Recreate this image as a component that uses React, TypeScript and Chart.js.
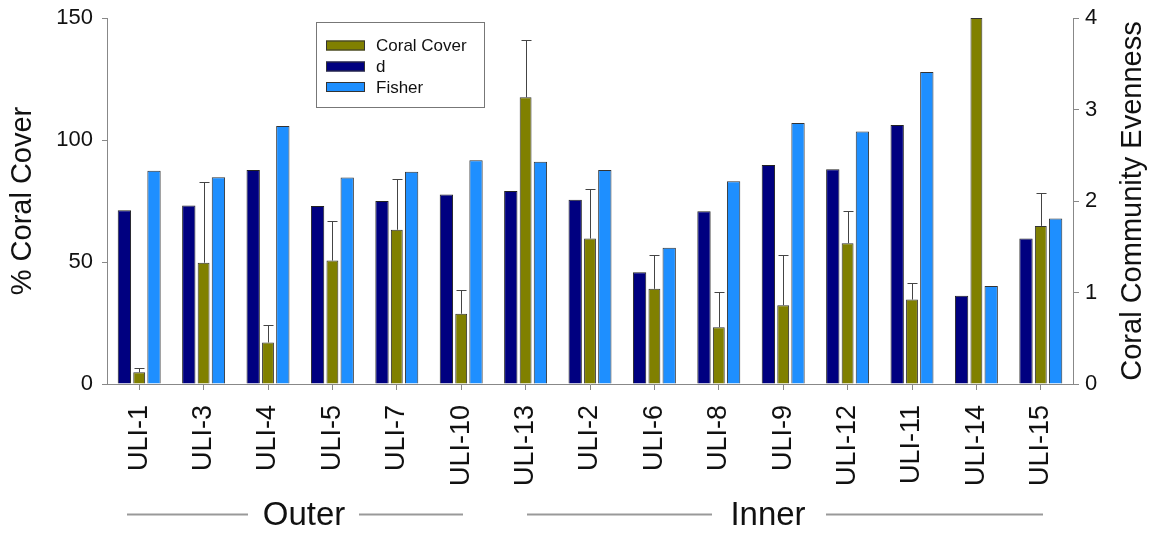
import React, { useEffect, useRef } from "react";
import { Chart, registerables } from "chart.js";

Chart.register(...registerables);

const sites = ["ULI-1", "ULI-3", "ULI-4", "ULI-5", "ULI-7", "ULI-10", "ULI-13", "ULI-2", "ULI-6", "ULI-8", "ULI-9", "ULI-12", "ULI-11", "ULI-14", "ULI-15"];
const coralCover = [4.8, 49.7, 17, 50.6, 63.2, 28.8, 117.5, 59.6, 39, 23.3, 32.3, 57.7, 34.6, 150, 64.8];
const coralCoverSD = [1.7, 33, 7.3, 16.3, 20.8, 9.8, 23.5, 20.5, 14, 14.3, 20.6, 13.4, 6.7, 0, 13.6];
const dValues = [1.9, 1.95, 2.34, 1.945, 2.0, 2.07, 2.11, 2.015, 1.22, 1.887, 2.394, 2.347, 2.83, 0.965, 1.59];
const fisherValues = [2.33, 2.26, 2.82, 2.256, 2.32, 2.445, 2.43, 2.34, 1.49, 2.215, 2.853, 2.76, 3.41, 1.07, 1.81];
const leftTicks = [0, 50, 100, 150];
const rightTicks = [0, 1, 2, 3, 4];
const legendLabels = ["Coral Cover", "d", "Fisher"];
const groupLabels = ["Outer", "Inner"];

const FONT = "'Liberation Sans', Arial, sans-serif";
const OLIVE = "#808000";
const NAVY = "#000080";
const LIGHT = "#1e8fff";
const AXIS = "#888888";

export default function App() {
  const ref = useRef<HTMLCanvasElement | null>(null);

  useEffect(() => {
    document.body.style.margin = "0";
    const canvas = ref.current!;

    const errorBars = {
      id: "errorBars",
      afterDatasetsDraw(chart: any) {
        const ctx = chart.ctx;
        const meta = chart.getDatasetMeta(1);
        const y = chart.scales.y;
        ctx.save();
        ctx.strokeStyle = "#444";
        ctx.lineWidth = 1;
        meta.data.forEach((bar: any, i: number) => {
          const sd = coralCoverSD[i];
          if (!sd) return;
          const top = y.getPixelForValue(coralCover[i] + sd);
          const x = Math.round(bar.x) + 0.5;
          ctx.beginPath();
          ctx.moveTo(x, bar.y);
          ctx.lineTo(x, Math.round(top) + 0.5);
          ctx.moveTo(x - 5, Math.round(top) + 0.5);
          ctx.lineTo(x + 5, Math.round(top) + 0.5);
          ctx.stroke();
        });
        ctx.restore();
      },
    };

    const decorations = {
      id: "decorations",
      afterDraw(chart: any) {
        const ctx = chart.ctx;
        ctx.save();
        // legend
        ctx.strokeStyle = "#777";
        ctx.lineWidth = 1;
        ctx.strokeRect(316.5, 22.5, 168, 85);
        const colors = [OLIVE, NAVY, LIGHT];
        const rowY = [45.5, 66.5, 87];
        ctx.font = `17px ${FONT}`;
        ctx.textBaseline = "middle";
        ctx.textAlign = "left";
        legendLabels.forEach((lab, i) => {
          ctx.fillStyle = colors[i];
          ctx.fillRect(326, rowY[i] - 5, 39, 10);
          ctx.strokeStyle = "#333";
          ctx.strokeRect(326.5, rowY[i] - 4.5, 38, 9);
          ctx.fillStyle = "#111";
          ctx.fillText(lab, 376, rowY[i] + 1);
        });
        // right axis title
        ctx.save();
        ctx.translate(1133, 201);
        ctx.rotate(-Math.PI / 2);
        ctx.font = `29px ${FONT}`;
        ctx.textAlign = "center";
        ctx.textBaseline = "middle";
        ctx.fillStyle = "#111";
        ctx.fillText("Coral Community Evenness", 0, 0);
        ctx.restore();
        // group labels
        ctx.strokeStyle = "#999";
        ctx.lineWidth = 2;
        const lines = [[127, 248], [359, 463], [527, 712], [826, 1043]];
        lines.forEach(([a, b]) => {
          ctx.beginPath();
          ctx.moveTo(a, 514.5);
          ctx.lineTo(b, 514.5);
          ctx.stroke();
        });
        ctx.font = `33px ${FONT}`;
        ctx.textAlign = "center";
        ctx.textBaseline = "middle";
        ctx.fillStyle = "#111";
        ctx.fillText(groupLabels[0], 304, 516);
        ctx.fillText(groupLabels[1], 768, 516);
        ctx.restore();
      },
    };

    const chart = new Chart(canvas, {
      type: "bar",
      data: {
        labels: sites,
        datasets: [
          {
            label: "d",
            data: dValues,
            yAxisID: "y2",
            backgroundColor: NAVY,
            borderColor: "#222",
            borderWidth: 1,
            barPercentage: 0.9,
            categoryPercentage: 0.69,
          },
          {
            label: "Coral Cover",
            data: coralCover,
            yAxisID: "y",
            backgroundColor: OLIVE,
            borderColor: "#333",
            borderWidth: 1,
            barPercentage: 0.8,
            categoryPercentage: 0.69,
          },
          {
            label: "Fisher",
            data: fisherValues,
            yAxisID: "y2",
            backgroundColor: LIGHT,
            borderColor: "#333",
            borderWidth: 1,
            barPercentage: 0.9,
            categoryPercentage: 0.69,
          },
        ],
      },
      options: {
        animation: false,
        responsive: false,
        maintainAspectRatio: false,
        layout: { padding: { top: 18, left: 0, right: 0, bottom: 0 } },
        plugins: { legend: { display: false }, tooltip: { enabled: false } },
        scales: {
          x: {
            type: "category",
            offset: true,
            grid: { display: true, drawOnChartArea: false, drawTicks: true, tickLength: 6, color: AXIS, offset: false },
            border: { display: true, color: AXIS, width: 1 },
            ticks: { minRotation: 90, maxRotation: 90, autoSkip: false, padding: 15, color: "#111", font: { family: FONT, size: 27 } },
            afterFit: (s: any) => { s.height = 533 - 384; s.paddingLeft = 0; s.paddingRight = 0; },
          },
          y: {
            position: "left",
            min: 0,
            max: 150,
            afterBuildTicks: (s: any) => { s.ticks = leftTicks.map((v) => ({ value: v })); },
            grid: { display: true, drawOnChartArea: false, drawTicks: true, tickLength: 5, color: AXIS },
            border: { display: true, color: AXIS, width: 1 },
            ticks: { padding: 9, color: "#111", font: { family: FONT, size: 22 } },
            title: { display: true, text: "% Coral Cover", color: "#111", font: { family: FONT, size: 29 }, padding: { top: 6, bottom: 0 } },
            afterFit: (s: any) => { s.width = 107; s.paddingTop = 0; s.paddingBottom = 0; },
          },
          y2: {
            position: "right",
            min: 0,
            max: 4,
            afterBuildTicks: (s: any) => { s.ticks = rightTicks.map((v) => ({ value: v })); },
            grid: { display: true, drawOnChartArea: false, drawTicks: true, tickLength: 6, color: AXIS },
            border: { display: true, color: AXIS, width: 1 },
            ticks: { padding: 6, color: "#111", font: { family: FONT, size: 22 } },
            afterFit: (s: any) => { s.width = 1153 - 1073; s.paddingTop = 0; s.paddingBottom = 0; },
          },
        },
      },
      plugins: [errorBars, decorations],
    } as any);

    return () => chart.destroy();
  }, []);

  return (
    <div style={{ width: 1153, height: 533, position: "relative", background: "#fff" }}>
      <canvas ref={ref} width={1153} height={533} style={{ display: "block" }} />
    </div>
  );
}
